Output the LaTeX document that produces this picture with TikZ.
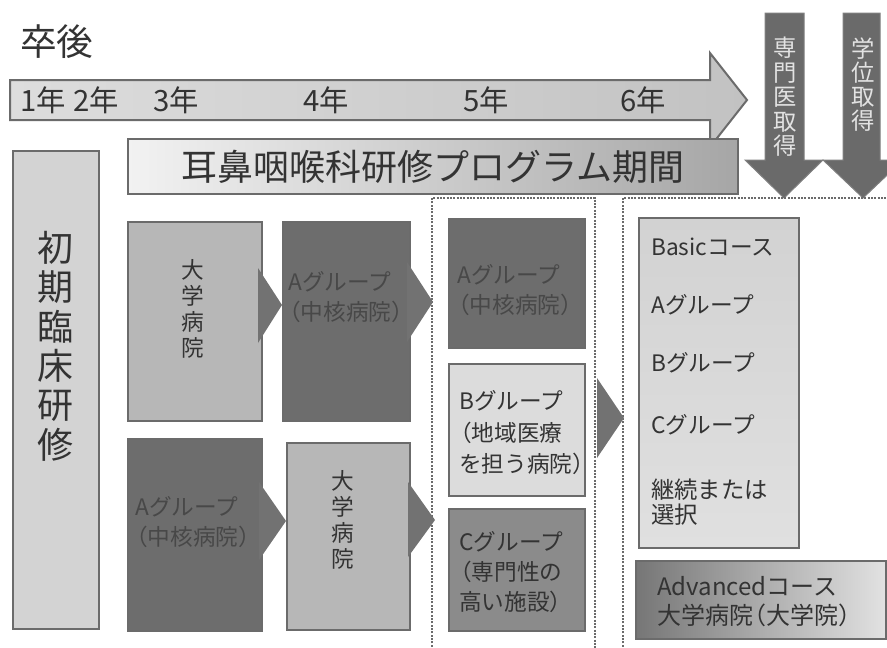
\documentclass[tikz,border=0pt]{standalone}
\usepackage{fontspec}
\setmainfont{Noto Sans CJK JP}

\definecolor{edgegray}{HTML}{6B6B6B}
\definecolor{darkfill}{HTML}{6D6D6D}
\definecolor{midfill}{HTML}{8B8B8B}
\definecolor{lightfill}{HTML}{B7B7B7}
\definecolor{palefill}{HTML}{DCDCDC}
\definecolor{initfill}{HTML}{D3D3D3}
\definecolor{tipgray}{HTML}{727272}
\definecolor{downgray}{HTML}{6A6A6A}
\definecolor{textgray}{HTML}{333333}
\definecolor{dimtext}{HTML}{484848}
\definecolor{arrowtext}{HTML}{E2E2E2}
\definecolor{timeleft}{HTML}{DDDDDD}
\definecolor{timeright}{HTML}{C2C2C2}
\definecolor{progleft}{HTML}{F2F2F2}
\definecolor{progright}{HTML}{A6A6A6}
\definecolor{basictop}{HTML}{D2D2D2}
\definecolor{basicbottom}{HTML}{E0E0E0}
\definecolor{advleft}{HTML}{767676}
\definecolor{advright}{HTML}{E2E2E2}

% full-width opening bracket pulled to the left edge
\newcommand{\lpar}{\kern-0.45em（}

\begin{document}
\begin{tikzpicture}[
  x=0.75pt, y=-0.75pt,
  every node/.style={inner sep=0pt, text=textgray},
  grpbox/.style={draw=edgegray, line width=1.5pt, anchor=north west},
  darkbox/.style={grpbox, fill=darkfill},
  midbox/.style={grpbox, fill=midfill},
  lightbox/.style={grpbox, fill=lightfill},
  palebox/.style={grpbox, fill=palefill},
  tipfill/.style={fill=tipgray},
  downarrow/.style={fill=downgray, draw=downgray!85!white, line width=0.75pt},
  dotcol/.style={draw=edgegray, line width=1.5pt, dash pattern=on 1.4pt off 1.1pt},
  boxtext/.style={anchor=west, align=left, font=\fontsize{17}{22.5}\selectfont},
  vtext/.style={align=center, font=\fontsize{17}{19.5}\selectfont}
]
\clip (0,0) rectangle (887,647);

% title and years
\node[anchor=west, font=\fontsize{27.5}{27.5}\selectfont] (title) at (20,42) {卒後};
\draw[draw=edgegray, line width=1.5pt, left color=timeleft, right color=timeright]
  (10,80) -- (710,80) -- (710,53) -- (747,100) -- (710,147) -- (710,120) -- (10,120) -- cycle;
\foreach \yr/\xx in {1/20,2/73,3/153,4/303,5/463,6/620}
  \node[anchor=west, font=\fontsize{22}{22}\selectfont] (yr\yr) at (\xx,100) {\yr 年};

\node[draw=edgegray, line width=1.5pt, left color=progleft, right color=progright,
  minimum width=457.5pt, minimum height=41.25pt, anchor=north west,
  font=\fontsize{27}{27}\selectfont] (prog) at (127,138) {耳鼻咽喉科研修プログラム期間};

% specialist / degree arrows
\draw[downarrow] (765,13) -- (804,13) -- (804,160) -- (823,160) -- (784,198)
  -- (745,160) -- (765,160) -- cycle;
\draw[downarrow] (843,13) -- (880,13) -- (880,160) -- (903,160) -- (863,198)
  -- (823,160) -- (843,160) -- cycle;
\node[align=center, text=arrowtext, font=\fontsize{17.5}{18.4}\selectfont] (senmon) at (785,97) {専\\門\\医\\取\\得};
\node[align=center, text=arrowtext, font=\fontsize{17.5}{18}\selectfont] (gakui) at (863,85) {学\\位\\取\\得};

% dotted columns
\draw[dotcol] (432,660) -- (432,198) -- (595,198) -- (595,660);
\draw[dotcol] (623,660) -- (623,198) -- (890,198);

% boxes
\node[grpbox, fill=initfill, minimum width=64.5pt, minimum height=358.5pt] (init) at (12,150) {};
\node[lightbox, minimum width=100.5pt, minimum height=149.25pt] (uni1) at (127,221) {};
\node[darkbox, minimum width=95.25pt, minimum height=149.25pt] (grpA1) at (282,221) {};
\node[darkbox, minimum width=100.5pt, minimum height=144pt] (grpA2) at (127,438) {};
\node[lightbox, minimum width=92.25pt, minimum height=140.25pt] (uni2) at (286,442) {};
\node[darkbox, minimum width=102pt, minimum height=96.75pt] (colA) at (448,218) {};
\node[palebox, minimum width=102pt, minimum height=99pt] (colB) at (448,363) {};
\node[midbox, minimum width=102pt, minimum height=91.5pt] (colC) at (448,508) {};
\node[grpbox, top color=basictop, bottom color=basicbottom,
  minimum width=120pt, minimum height=247.5pt] (basic) at (638,217) {};
\node[grpbox, left color=advleft, right color=advright,
  minimum width=187.5pt, minimum height=58.5pt] (adv) at (635,560) {};

% texts
\node[align=center, font=\fontsize{27}{29.5}\selectfont] (initT) at (55,346) {初\\期\\臨\\床\\研\\修};
\node[vtext] (uni1T) at (193,309) {大\\学\\病\\院};
\node[vtext] (uni2T) at (343,520) {大\\学\\病\\院};
\node[boxtext, text=dimtext] (grpA1T) at (288,297) {Aグループ\\\lpar 中核病院）};
\node[boxtext, text=dimtext] (grpA2T) at (135,522) {Aグループ\\\lpar 中核病院）};
\node[boxtext, text=dimtext] (colAT) at (457,290) {Aグループ\\\lpar 中核病院）};
\node[boxtext, font=\fontsize{17}{23.6}\selectfont] (colBT) at (459,433) {Bグループ\\\lpar 地域医療\\を担う病院）};
\node[boxtext] (colCT) at (459,572) {Cグループ\\\lpar 専門性の\\高い施設）};

\node[boxtext] (basic1) at (651,247) {Basicコース};
\node[boxtext] (basic2) at (651,305) {Aグループ};
\node[boxtext] (basic3) at (651,363) {Bグループ};
\node[boxtext] (basic4) at (651,425) {Cグループ};
\node[boxtext, font=\fontsize{17.5}{19}\selectfont] (basic5) at (651,502) {継続または\\選択};
\node[boxtext, font=\fontsize{18}{21.75}\selectfont] (advT) at (657,602) {Advancedコース\\大学病院\lpar 大学院）};

% flow tips
\fill[tipfill] (258,268) -- (282,305) -- (258,343) -- cycle;
\fill[tipfill] (407,262) -- (433,302) -- (407,342) -- cycle;
\fill[tipfill] (259,482) -- (286,521) -- (259,560) -- cycle;
\fill[tipfill] (408,482) -- (435,520) -- (408,557) -- cycle;
\fill[tipfill] (597,378) -- (624,418) -- (597,458) -- cycle;
\end{tikzpicture}
\end{document}
